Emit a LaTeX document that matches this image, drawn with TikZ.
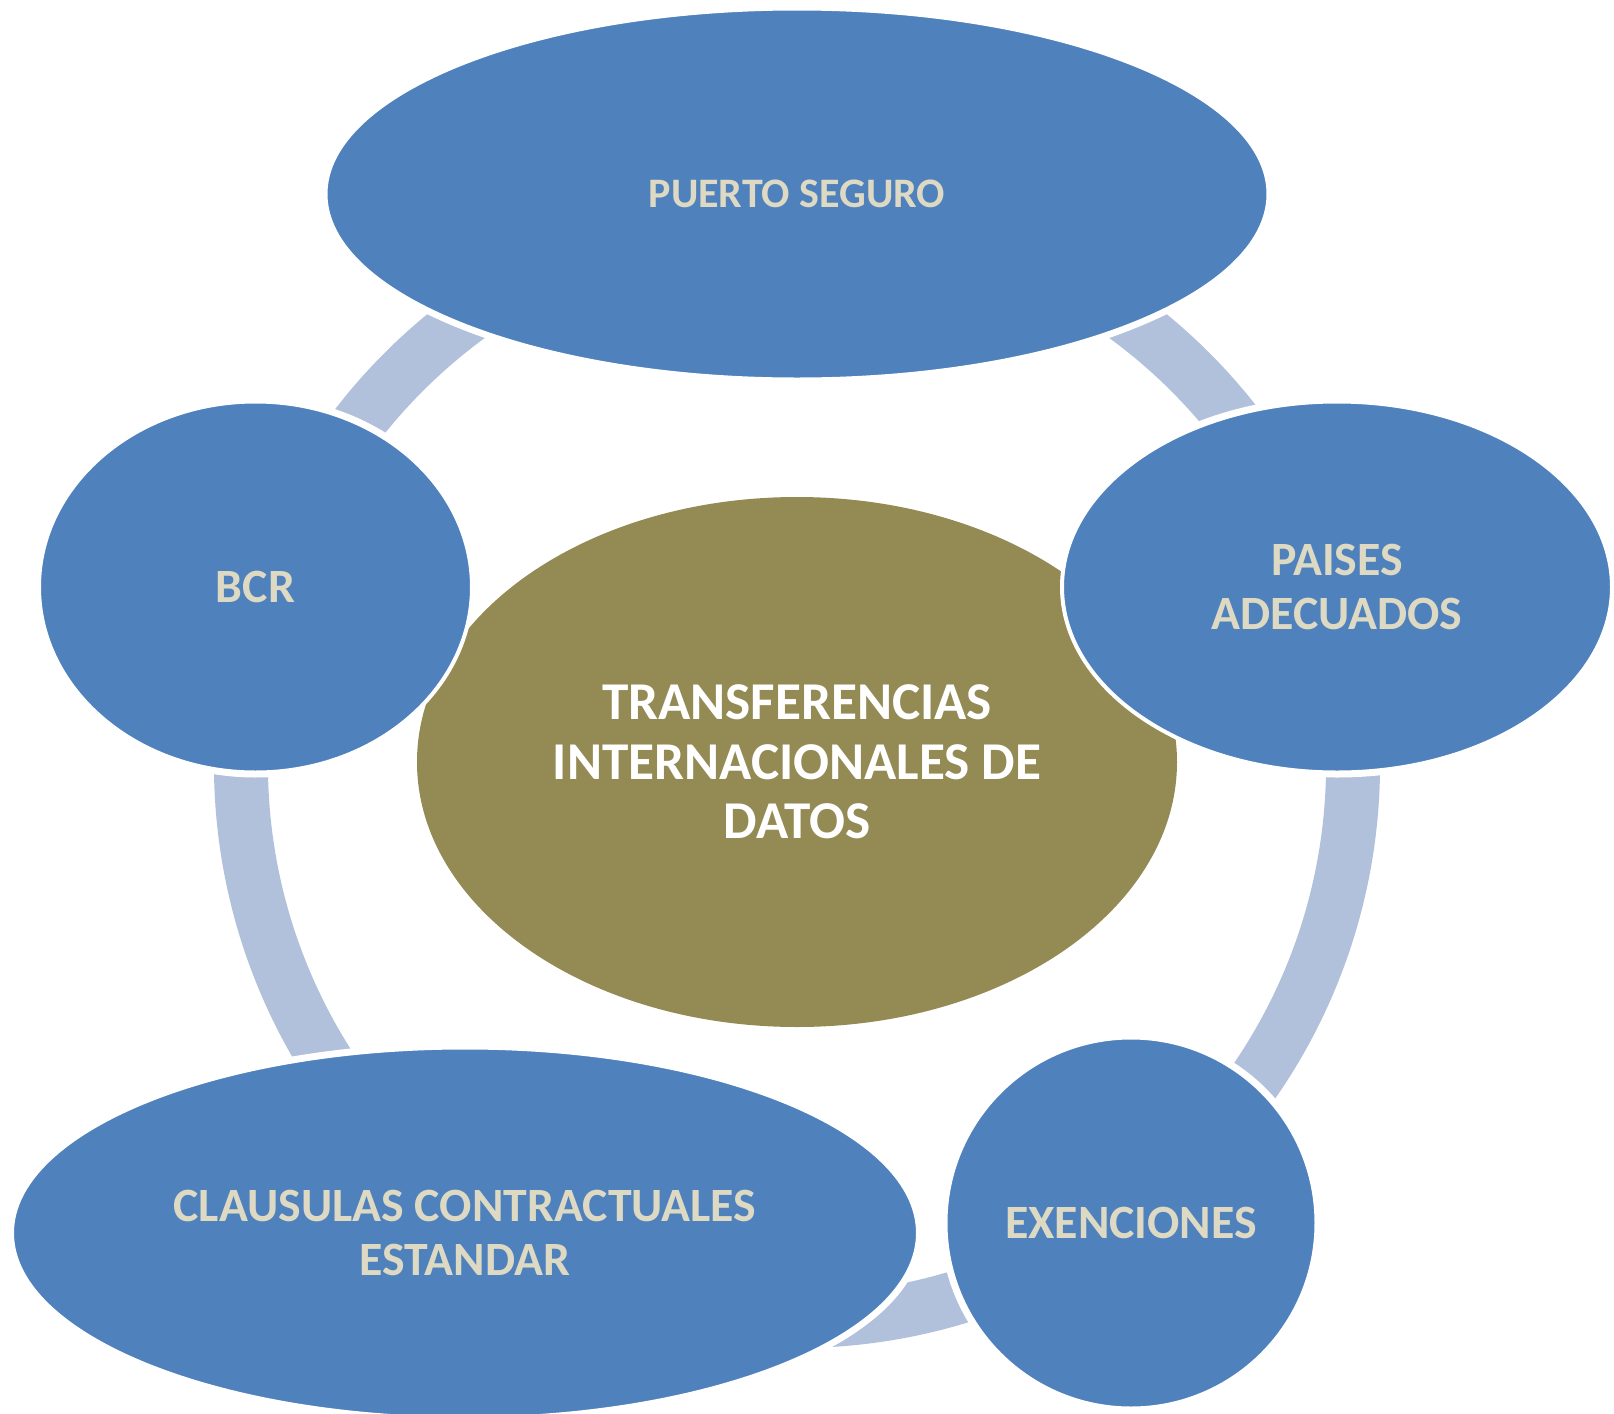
\documentclass[tikz,border=0pt]{standalone}
\usepackage{fontspec}
\setmainfont{Carlito}
\usetikzlibrary{shapes.geometric}
\definecolor{nodeblue}{HTML}{4F81BD}
\definecolor{hubolive}{HTML}{948A54}
\definecolor{ringblue}{HTML}{B2C1DB}
\definecolor{labeltan}{HTML}{DDD9C3}
\pgfdeclarelayer{arcs}
\pgfdeclarelayer{halo}
\pgfsetlayers{arcs,halo,main}
\begin{document}
\begin{tikzpicture}[x=0.5pt,y=-0.5pt,
  outer/.style={ellipse, fill=nodeblue, draw=white, line width=2pt, inner sep=0pt,
    text=labeltan, font=\bfseries\fontsize{23.9}{26.9}\selectfont, align=center},
  hub/.style={ellipse, fill=hubolive, inner sep=0pt, text=white,
    font=\bfseries\fontsize{26.6}{29.65}\selectfont, align=center},
  link/.style={draw=ringblue, line width=27pt, line cap=butt}]
\useasboundingbox (0,0) rectangle (1614,1414);
\clip (0,0) rectangle (1614,1414);
\coordinate (ring) at (797,765);
\node[hub, minimum width=380pt, minimum height=265pt] (hub) at (797,762)
  {TRANSFERENCIAS\\INTERNACIONALES DE\\DATOS};
\node[outer, minimum width=471.5pt, minimum height=185.5pt,
  font=\bfseries\fontsize{21}{24}\selectfont] (puerto) at (797,194) {PUERTO SEGURO};
\node[outer, minimum width=275pt, minimum height=185.5pt] (paises) at (1337,587) {PAISES\\ADECUADOS};
\node[outer, minimum width=185.5pt, minimum height=185.5pt] (exenciones) at (1131,1223) {EXENCIONES};
\node[outer, minimum width=453pt, minimum height=185.5pt] (clausulas) at (465,1233) {CLAUSULAS CONTRACTUALES\\ESTANDAR};
\node[outer, minimum width=216.5pt, minimum height=185.5pt] (bcr) at (255.5,587) {BCR};
\begin{pgfonlayer}{halo}
\foreach \n/\rx/\ry in {puerto/476.5/190.5, paises/280/190.5, exenciones/190.5/190.5,
    clausulas/458/190.5, bcr/221.5/190.5}
  \fill[white] (\n.center) ellipse[x radius=\rx, y radius=\ry];
\end{pgfonlayer}
\begin{pgfonlayer}{arcs}
\draw[link] (ring) ++(-90:556) arc[start angle=-90, end angle=-18, radius=556];
\draw[link] (ring) ++(-18:556) arc[start angle=-18, end angle=54, radius=556];
\draw[link] (ring) ++(54:556) arc[start angle=54, end angle=126, radius=556];
\draw[link] (ring) ++(126:556) arc[start angle=126, end angle=198, radius=556];
\draw[link] (ring) ++(198:556) arc[start angle=198, end angle=270, radius=556];
\end{pgfonlayer}
\end{tikzpicture}
\end{document}
